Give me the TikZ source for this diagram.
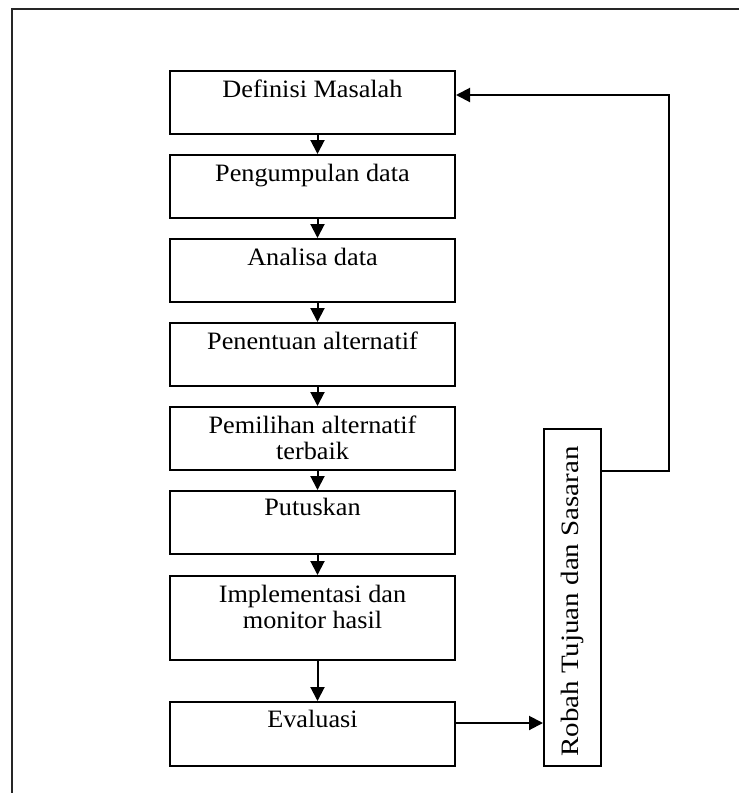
\documentclass[tikz,border=0pt]{standalone}
\usepackage{fontspec}
\setmainfont{Liberation Serif}[FakeStretch=1.05]
\newfontfamily\rotfont{Liberation Serif}[FakeStretch=1.16]
\usetikzlibrary{arrows.meta,calc}
\begin{document}
\begin{tikzpicture}[x=1pt,y=-1pt,
  box/.style={draw, line width=2pt, minimum width=285pt, inner sep=0pt},
  lbl/.style={anchor=base, inner sep=0pt, align=center, font=\fontsize{25}{26.5}\selectfont},
  arr/.style={line width=2pt, -{Triangle[length=14pt,width=14pt]}},
  frame/.style={line width=2.4pt, draw=black!85}]
\useasboundingbox (0,0) rectangle (739,793);
% frame
\coordinate (fl) at (12,793);
\coordinate (fc) at (12,9);
\coordinate (fr) at (739,9);
\draw[frame] (fl) -- (fc) -- (fr);
% boxes
\node[box, minimum height=63pt] (b1) at (312.5,102.5) {};
\node[box, minimum height=63pt] (b2) at (312.5,186.5) {};
\node[box, minimum height=63pt] (b3) at (312.5,270.5) {};
\node[box, minimum height=63pt] (b4) at (312.5,354.5) {};
\node[box, minimum height=63pt] (b5) at (312.5,438.5) {};
\node[box, minimum height=63pt] (b6) at (312.5,522.5) {};
\node[box, minimum height=84pt] (b7) at (312.5,618) {};
\node[box, minimum height=64pt] (b8) at (312.5,734) {};
\node[draw, line width=2pt, minimum width=57pt, minimum height=337pt, inner sep=0pt] (r) at (572.5,597.5) {};
% texts
\node[lbl] (t1) at (312.5,97) {Definisi Masalah};
\node[lbl] (t2) at (312.5,181) {Pengumpulan data};
\node[lbl] (t3) at (312.5,265) {Analisa data};
\node[lbl] (t4) at (312.5,349) {Penentuan alternatif};
\node[lbl] (t5) at (312.5,459.5) {Pemilihan alternatif\\terbaik};
\node[lbl] (t6) at (312.5,515) {Putuskan};
\node[lbl] (t7) at (312.5,628.5) {Implementasi dan\\monitor hasil};
\node[lbl] (t8) at (312.5,727) {Evaluasi};
\node[anchor=base west, rotate=90, inner sep=0pt, font=\rotfont\fontsize{25}{26}\selectfont] (tr) at (578,757) {Robah Tujuan dan Sasaran};
% vertical arrows
\draw[arr] ([xshift=5pt]b1.south) -- ([xshift=5pt]b2.north);
\draw[arr] ([xshift=5pt]b2.south) -- ([xshift=5pt]b3.north);
\draw[arr] ([xshift=5pt]b3.south) -- ([xshift=5pt]b4.north);
\draw[arr] ([xshift=5pt]b4.south) -- ([xshift=5pt]b5.north);
\draw[arr] ([xshift=5pt]b5.south) -- ([xshift=5pt]b6.north);
\draw[arr] ([xshift=5pt]b6.south) -- ([xshift=5pt]b7.north);
\draw[arr] ([xshift=5pt]b7.south) -- ([xshift=5pt]b8.north);
% evaluasi to robah
\coordinate (e) at ($(b8.east)+(0,-11)$);
\draw[arr] (e) -- (e -| r.west);
% feedback
\coordinate (fb) at ($(r.north east)+(0,43)$);
\coordinate (fd) at ($(b1.east)+(0,-7.5)$);
\draw[arr] (fb) -- (669,43 |- fb) -- (669,0 |- fd) -- (fd);
\end{tikzpicture}
\end{document}
